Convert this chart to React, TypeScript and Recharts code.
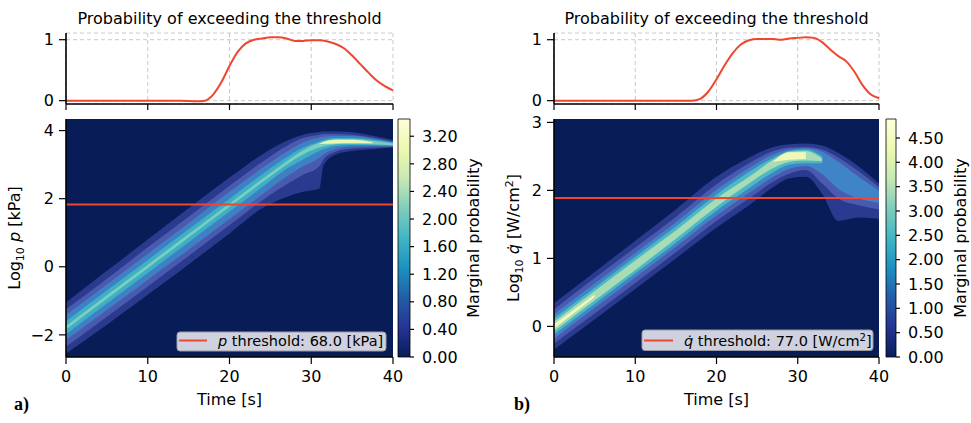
import {
  ComposedChart,
  LineChart,
  Line,
  Area,
  Bar,
  XAxis,
  YAxis,
  CartesianGrid,
  ReferenceLine,
  Label,
} from "recharts";

type Range = [number, number] | null;

const FONT = '"DejaVu Sans", sans-serif';
const RED = "#f0452f";
const NAVY = "#081d58";
const timeTicks = [0, 10, 20, 30, 40];

// ---- top panels: probability of exceeding the threshold ----
const probTimesA = [0, 5, 10, 14, 16, 17, 18, 19, 20, 21, 22, 23, 24, 25, 26, 27, 28, 29, 30, 31, 32, 33, 34, 35, 36, 37, 38, 39, 40];
const probA = [0, 0, 0, 0, -0.01, 0, 0.1, 0.3, 0.57, 0.8, 0.94, 1.0, 1.02, 1.04, 1.04, 1.02, 0.98, 0.98, 0.99, 0.99, 0.97, 0.93, 0.86, 0.74, 0.6, 0.46, 0.33, 0.24, 0.17];

const probTimesB = [0, 5, 10, 15, 17, 18, 19, 20, 21, 22, 23, 24, 25, 26, 27, 28, 29, 30, 31, 32, 33, 34, 35, 36, 37, 38, 39, 40];
const probB = [0, 0, 0, 0, 0, 0.03, 0.15, 0.35, 0.58, 0.78, 0.92, 0.99, 1.01, 1.01, 1.01, 1.0, 1.02, 1.03, 1.04, 1.03, 0.96, 0.84, 0.73, 0.64, 0.47, 0.25, 0.1, 0.04];

// ---- density bands, panel a (log10 p) ----
const pTimes = [0, 5, 10, 15, 20, 24, 27, 29, 31, 31.5, 33, 35, 37.5, 40];
const pBand1: Range[] = [[-2.55, -1.05], [-1.7, -0.12], [-0.82, 0.8], [0.07, 1.72], [0.98, 2.62], [1.72, 3.3], [2.05, 3.7], [2.2, 3.88], [2.3, 3.96], [2.98, 3.97], [3.3, 3.97], [3.4, 3.95], [3.45, 3.85], [3.5, 3.72]];
const pBand2: Range[] = [[-2.35, -1.25], [-1.47, -0.35], [-0.58, 0.57], [0.32, 1.47], [1.22, 2.38], [1.95, 3.08], [2.42, 3.55], [2.7, 3.78], [2.95, 3.88], [3.15, 3.9], [3.38, 3.9], [3.47, 3.88], [3.5, 3.8], [3.52, 3.68]];
const pBand3: Range[] = [[-2.15, -1.42], [-1.27, -0.52], [-0.38, 0.38], [0.5, 1.28], [1.4, 2.2], [2.12, 2.9], [2.65, 3.38], [2.95, 3.65], [3.2, 3.8], [3.3, 3.82], [3.46, 3.84], [3.53, 3.84], [3.54, 3.77], [3.54, 3.66]];
const pBand4: Range[] = [[-1.98, -1.6], [-1.08, -0.7], [-0.18, 0.2], [0.72, 1.1], [1.62, 2.0], [2.34, 2.72], [2.88, 3.22], [3.15, 3.5], [3.4, 3.68], [3.45, 3.72], [3.55, 3.78], [3.58, 3.78], [3.58, 3.73], [3.56, 3.65]];
const pBand5: Range[] = [[-1.84, -1.74], [-0.94, -0.84], [-0.04, 0.06], [0.86, 0.96], [1.76, 1.86], [2.48, 2.58], [3.0, 3.1], [3.3, 3.42], [3.5, 3.64], [3.54, 3.68], [3.6, 3.75], [3.61, 3.75], [3.6, 3.7], [3.57, 3.62]];
const pBand6: Range[] = [null, null, null, null, null, null, null, null, [3.6, 3.61], [3.61, 3.67], [3.62, 3.73], [3.63, 3.73], [3.63, 3.66], null];

// ---- density bands, panel b (log10 q-dot) ----
const qTimes = [0, 5, 10, 15, 20, 24, 27, 29, 31, 33, 35, 37.5, 40];
const qBand1: Range[] = [[-0.34, 0.34], [0.1, 0.8], [0.55, 1.26], [1.0, 1.72], [1.45, 2.2], [1.78, 2.48], [2.05, 2.64], [2.18, 2.68], [2.2, 2.69], [1.95, 2.66], [1.55, 2.55], [1.6, 2.35], [1.58, 2.1]];
const qBand2: Range[] = [[-0.25, 0.25], [0.19, 0.71], [0.64, 1.16], [1.09, 1.61], [1.55, 2.09], [1.88, 2.4], [2.13, 2.58], [2.25, 2.63], [2.3, 2.64], [2.1, 2.6], [1.88, 2.48], [1.78, 2.28], [1.72, 2.05]];
const qBand3: Range[] = [[-0.18, 0.18], [0.27, 0.63], [0.72, 1.08], [1.17, 1.53], [1.63, 2.01], [1.96, 2.33], [2.2, 2.53], [2.32, 2.6], [2.36, 2.62], [2.24, 2.57], [2.02, 2.42], [1.88, 2.2], [1.82, 2.0]];
const qBand4: Range[] = [[-0.12, 0.12], [0.33, 0.57], [0.78, 1.02], [1.23, 1.47], [1.7, 1.94], [2.03, 2.27], [2.27, 2.48], [2.38, 2.58], [2.4, 2.6], [2.4, 2.5], null, null, null];
const qBand5: Range[] = [[-0.07, 0.07], [0.38, 0.52], [0.83, 0.97], [1.29, 1.41], [1.76, 1.88], [2.1, 2.2], [2.33, 2.45], [2.42, 2.57], [2.44, 2.58], [2.43, 2.47], null, null, null];
const qBand6: Range[] = [[-0.03, 0.03], [0.43, 0.47], null, null, null, null, [2.42, 2.43], [2.45, 2.56], [2.46, 2.56], null, null, null, null];

const pThreshold = 68.0; // kPa
const qThreshold = 77.0; // W/cm2

// colour bars
const cbTicksA = [0, 0.4, 0.8, 1.2, 1.6, 2.0, 2.4, 2.8, 3.2];
const cbMaxA = 3.45;
const cbTicksB = [0, 0.5, 1.0, 1.5, 2.0, 2.5, 3.0, 3.5, 4.0, 4.5];
const cbMaxB = 4.89;

// YlGnBu reversed, bottom -> top
const cmap = ["#081d58", "#253494", "#225ea8", "#1d91c0", "#41b6c4", "#7fcdbb", "#c7e9b4", "#edf8b1", "#ffffd9"];

const bandColorsA = ["#2a3a8e", "#4a5aae", "#3f80c4", "#3cb0c6", "#7ccdbf", "#eaf6b2"];
const bandColorsB = ["#2a3a8e", "#4a5aae", "#3f84c6", "#4cb8c4", "#a8dcb6", "#eff8b6"];

const rowsA = pTimes.map((t, i) => ({
  t,
  b1: pBand1[i], b2: pBand2[i], b3: pBand3[i], b4: pBand4[i], b5: pBand5[i], b6: pBand6[i],
}));
const rowsB = qTimes.map((t, i) => ({
  t,
  b1: qBand1[i], b2: qBand2[i], b3: qBand3[i], b4: qBand4[i], b5: qBand5[i], b6: qBand6[i],
}));
const topA = probTimesA.map((t, i) => ({ t, p: probA[i] }));
const topB = probTimesB.map((t, i) => ({ t, p: probB[i] }));

const minus = (v: number) => (v < 0 ? "\u2212" + Math.abs(v) : String(v));
const tickStyle = { fill: "#000", fontSize: 16 };
const spine = { stroke: "#000", strokeWidth: 1.6 };
const tickLine = { stroke: "#000", strokeWidth: 1.2 };

function ProbPanel({ data, ml, mr }: { data: { t: number; p: number }[]; ml: number; mr: number }) {
  return (
    <LineChart width={420} height={120} data={data} margin={{ top: 33, right: mr, bottom: 0, left: ml }}>
      <CartesianGrid stroke="#c8c8c8" strokeDasharray="4 3" strokeWidth={1} />
      <XAxis dataKey="t" type="number" domain={[0, 40]} ticks={timeTicks} interval={0} height={16}
        tickSize={6} tickFormatter={() => ""} axisLine={spine} tickLine={tickLine} />
      <YAxis type="number" domain={[-0.055, 1.11]} ticks={[0, 1]} interval={0} width={50} allowDataOverflow
        tickSize={7} tickMargin={5} tick={tickStyle} axisLine={spine} tickLine={tickLine} />
      <XAxis xAxisId="top" orientation="top" type="number" domain={[0, 40]} height={0} tick={false} tickLine={false} axisLine={spine} />
      <YAxis yAxisId="right" orientation="right" type="number" domain={[0, 1]} width={0} tick={false} tickLine={false} axisLine={spine} />
      <Line dataKey="p" type="monotone" stroke={RED} strokeWidth={2} dot={false} activeDot={false} isAnimationActive={false} />
    </LineChart>
  );
}

function DensityPanel({
  rows, yDomain, yTicks, threshold, colors, ml, mr, yLabel, yLabelX,
}: {
  rows: any[]; yDomain: [number, number]; yTicks: number[]; threshold: number; colors: string[];
  ml: number; mr: number; yLabel: React.ReactNode; yLabelX: number;
}) {
  const plotCenter = ml + 50 + (420 - ml - 50 - mr) / 2;
  return (
    <ComposedChart width={420} height={300} data={rows} margin={{ top: 9, right: mr, bottom: 0, left: ml }}>
      <CartesianGrid fill={NAVY} stroke="none" horizontal={false} vertical={false} />
      <XAxis dataKey="t" type="number" domain={[0, 40]} ticks={timeTicks} interval={0} allowDataOverflow height={53}
        tickSize={7} tickMargin={7} tick={tickStyle} axisLine={spine} tickLine={tickLine}>
        <Label content={() => (
          <text x={plotCenter} y={295} textAnchor="middle" fontSize={16} fill="#000">Time [s]</text>
        )} />
      </XAxis>
      <YAxis type="number" domain={yDomain} ticks={yTicks} interval={0} allowDataOverflow width={50}
        tickSize={7} tickMargin={5} tick={tickStyle} tickFormatter={minus} axisLine={spine} tickLine={tickLine}>
        <Label content={() => (
          <text x={yLabelX} y={128} textAnchor="middle" fontSize={16} fill="#000" transform={`rotate(-90, ${yLabelX}, 128)`}>
            {yLabel}
          </text>
        )} />
      </YAxis>
      <XAxis xAxisId="top" orientation="top" type="number" domain={[0, 40]} height={0} tick={false} tickLine={false} axisLine={spine} />
      <YAxis yAxisId="right" orientation="right" type="number" domain={yDomain} width={0} tick={false} tickLine={false} axisLine={spine} />
      {colors.map((c, i) => (
        <Area key={i} dataKey={`b${i + 1}`} type="monotone" stroke="none" fill={c} fillOpacity={1}
          dot={false} activeDot={false} isAnimationActive={false} />
      ))}
      <ReferenceLine y={Math.log10(threshold)} stroke={RED} strokeWidth={2} />
    </ComposedChart>
  );
}

function ColorBar({
  id, max, ticks, ml, barW, mr, labelX,
}: { id: string; max: number; ticks: number[]; ml: number; barW: number; mr: number; labelX: number }) {
  return (
    <ComposedChart width={ml + barW + 60 + mr} height={300} data={[{ name: "cb", v: max }]}
      margin={{ top: 9, right: mr, bottom: 53, left: ml }} barCategoryGap={0}>
      <defs>
        <linearGradient id={id} x1="0" y1="1" x2="0" y2="0">
          {cmap.map((c, i) => (
            <stop key={i} offset={`${(i / (cmap.length - 1)) * 100}%`} stopColor={c} />
          ))}
        </linearGradient>
      </defs>
      <XAxis dataKey="name" type="category" hide />
      <YAxis orientation="right" type="number" domain={[0, max]} ticks={ticks} interval={0} width={60}
        tickSize={4} tickMargin={8} tick={tickStyle} axisLine={false} tickLine={tickLine}
        tickFormatter={(v: number) => v.toFixed(2)}>
        <Label content={() => (
          <text x={labelX} y={128} textAnchor="middle" fontSize={16} fill="#000" transform={`rotate(-90, ${labelX}, 128)`}>
            Marginal probability
          </text>
        )} />
      </YAxis>
      <Bar dataKey="v" fill={`url(#${id})`} stroke="#000" strokeWidth={0.8} isAnimationActive={false} />
    </ComposedChart>
  );
}

const abs = (left: number, top: number): React.CSSProperties => ({ position: "absolute", left, top });

export default function App() {
  return (
    <div style={{ position: "absolute", left: 0, top: 0, width: 971, height: 423, background: "#fff", fontFamily: FONT }}>
      <div style={abs(0, 0)}>
        <ProbPanel data={topA} ml={16} mr={27} />
      </div>
      <div style={abs(490, 0)}>
        <ProbPanel data={topB} ml={14} mr={31} />
      </div>
      <div style={abs(0, 110)}>
        <DensityPanel rows={rowsA} yDomain={[-2.65, 4.34]} yTicks={[-2, 0, 2, 4]} threshold={pThreshold}
          colors={bandColorsA} ml={16} mr={27} yLabelX={20}
          yLabel={<>Log<tspan fontSize={11} dy={4}>10</tspan><tspan dy={-4}> </tspan><tspan fontStyle="italic">p</tspan> [kPa]</>} />
      </div>
      <div style={abs(490, 110)}>
        <DensityPanel rows={rowsB} yDomain={[-0.45, 3.05]} yTicks={[0, 1, 2, 3]} threshold={qThreshold}
          colors={bandColorsB} ml={14} mr={31} yLabelX={29}
          yLabel={<>Log<tspan fontSize={11} dy={4}>10</tspan><tspan dy={-4}> </tspan><tspan fontStyle="italic">{"q\u0307"}</tspan> [W/cm<tspan fontSize={11} dy={-6}>2</tspan><tspan dy={6}>]</tspan></>} />
      </div>
      <div style={abs(390, 110)}>
        <ColorBar id="cbA" max={cbMaxA} ticks={cbTicksA} ml={8} barW={12} mr={20} labelX={89} />
      </div>
      <div style={abs(880, 110)}>
        <ColorBar id="cbB" max={cbMaxB} ticks={cbTicksB} ml={6} barW={10} mr={15} labelX={86} />
      </div>
      <svg width={971} height={423} style={{ position: "absolute", left: 0, top: 0, pointerEvents: "none" }} fontFamily={FONT}>
        <text x={229.5} y={24} textAnchor="middle" fontSize={16} fill="#000">Probability of exceeding the threshold</text>
        <text x={716.5} y={24} textAnchor="middle" fontSize={16} fill="#000">Probability of exceeding the threshold</text>
        <text x={14} y={410} fontSize={18} fontWeight="bold" fontFamily='"Liberation Serif", serif' fill="#000">a)</text>
        <text x={514} y={410} fontSize={18} fontWeight="bold" fontFamily='"Liberation Serif", serif' fill="#000">b)</text>

        <rect x={177} y={332} width={209} height={19} rx={3} fill="#cfd2de" stroke="#9a9aa6" strokeWidth={1} />
        <line x1={179} x2={207} y1={340.5} y2={340.5} stroke={RED} strokeWidth={2} />
        <text x={218} y={345.5} fontSize={14.5} fill="#000">
          <tspan fontStyle="italic">p</tspan> threshold: {pThreshold.toFixed(1)} [kPa]
        </text>

        <rect x={642} y={330} width={231} height={20.5} rx={3} fill="#cfd2de" stroke="#9a9aa6" strokeWidth={1} />
        <line x1={644} x2={673} y1={340.5} y2={340.5} stroke={RED} strokeWidth={2} />
        <text x={684} y={345.5} fontSize={14.5} fill="#000">
          <tspan fontStyle="italic">{"q\u0307"}</tspan> threshold: {qThreshold.toFixed(1)} [W/cm<tspan fontSize={10} dy={-5}>2</tspan><tspan dy={5}>]</tspan>
        </text>
      </svg>
    </div>
  );
}
